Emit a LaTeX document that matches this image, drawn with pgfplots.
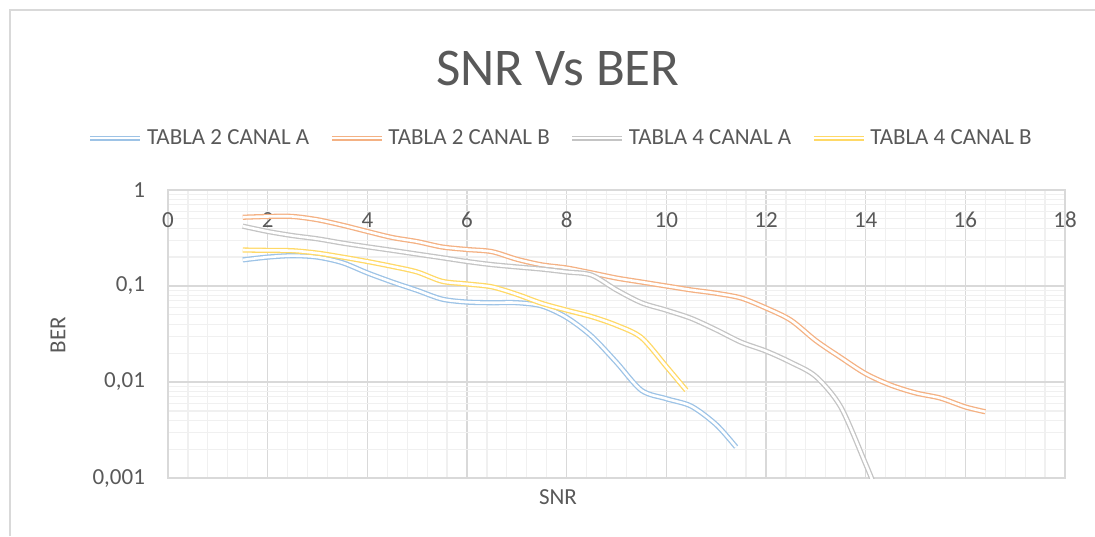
\documentclass[border=0pt]{standalone}
\usepackage{pgfplots}
\pgfplotsset{compat=1.18}
\usepackage{fontspec}
\setmainfont{Carlito}
\definecolor{cblue}{HTML}{9DC3E6}
\definecolor{corange}{HTML}{F4B183}
\definecolor{cgray}{HTML}{C4C4C4}
\definecolor{cyellow}{HTML}{FFD966}
\definecolor{txt}{HTML}{595959}
\definecolor{gmaj}{HTML}{D9D9D9}
\definecolor{gmin}{HTML}{F0F0F0}
\begin{document}
\begin{tikzpicture}
\useasboundingbox (-84pt,-29pt) rectangle (463.5pt,239pt);
\draw[gmaj, line width=0.6pt] (-79pt,-29pt) -- (-79pt,234pt) -- (463.5pt,234pt);
\begin{axis}[
  at={(0pt,0pt)}, anchor=south west,
  scale only axis, width=448.5pt, height=144pt,
  ymode=log, xmin=0, xmax=18, ymin=0.001, ymax=1,
  xtick={0,2,...,18}, minor x tick num=4,
  ytick={0.001,0.01,0.1,1}, yticklabels={{0,001},{0,01},{0,1},{1}},
  grid=both,
  major grid style={color=gmaj, line width=0.6pt},
  minor grid style={color=gmin, line width=0.6pt},
  axis line style={gmaj, line width=0.6pt},
  tick style={draw=none},
  xticklabel pos=upper,
  xticklabel style={anchor=center, yshift=-15pt, font=\fontsize{11.5}{13}\selectfont, text=txt},
  yticklabel style={anchor=east, xshift=-8pt, font=\fontsize{11.5}{13}\selectfont, text=txt},
  /pgf/number format/assume math mode=true,
  legend columns=4,
  legend style={draw=none, fill=none, at={(axis description cs:0.439,1.18)}, anchor=center,
    font=\fontsize{11.5}{13}\selectfont, text=txt,
    /tikz/every even column/.append style={column sep=8pt}},
  legend image code/.code={\draw[#1] (0pt,0pt) -- (25pt,0pt);},
  every axis plot/.append style={line width=0.65pt, double=white, double distance=1.3pt, smooth},
]
\addplot[cblue] coordinates {(1.5,0.187) (2,0.200) (2.5,0.207) (3,0.200) (3.5,0.175) (4,0.137) (4.5,0.110) (5,0.090) (5.5,0.073) (6,0.068) (6.5,0.067) (7,0.067) (7.5,0.062) (8,0.047) (8.5,0.030) (9,0.016) (9.5,0.0082) (10,0.0067) (10.5,0.0056) (11,0.0036) (11.4,0.0021)};
\addlegendentry{TABLA 2 CANAL A}
\addplot[corange] coordinates {(1.5,0.52) (2,0.53) (2.5,0.53) (3,0.49) (3.5,0.43) (4,0.37) (4.5,0.32) (5,0.29) (5.5,0.255) (6,0.24) (6.5,0.228) (7,0.19) (7.5,0.166) (8,0.154) (8.5,0.137) (9,0.121) (9.5,0.11) (10,0.10) (10.5,0.091) (11,0.084) (11.5,0.075) (12,0.059) (12.5,0.044) (13,0.027) (13.5,0.018) (14,0.0122) (14.5,0.0093) (15,0.0077) (15.5,0.0068) (16,0.0055) (16.4,0.0049)};
\addlegendentry{TABLA 2 CANAL B}
\addplot[cgray] coordinates {(1.5,0.42) (2,0.37) (2.5,0.335) (3,0.31) (3.5,0.28) (4,0.256) (4.5,0.235) (5,0.215) (5.5,0.197) (6,0.18) (6.5,0.167) (7,0.158) (7.5,0.15) (8,0.14) (8.5,0.13) (9,0.091) (9.5,0.067) (10,0.056) (10.5,0.046) (11,0.035) (11.5,0.026) (12,0.021) (12.5,0.016) (13,0.0114) (13.5,0.0055) (14,0.0014) (14.15,0.0009)};
\addlegendentry{TABLA 4 CANAL A}
\addplot[cyellow] coordinates {(1.5,0.237) (2,0.235) (2.5,0.233) (3,0.22) (3.5,0.20) (4,0.18) (4.5,0.16) (5,0.14) (5.5,0.112) (6,0.105) (6.5,0.098) (7,0.082) (7.5,0.066) (8,0.056) (8.5,0.048) (9,0.039) (9.5,0.029) (10,0.0145) (10.4,0.0082)};
\addlegendentry{TABLA 4 CANAL B}
\end{axis}
\node[text=txt, font=\fontsize{26.5}{30}\selectfont] at (195pt,205pt) {SNR Vs BER};
\node[text=txt, font=\fontsize{11.5}{13}\selectfont] at (195pt,-9.5pt) {SNR};
\node[text=txt, font=\fontsize{11.5}{13}\selectfont, rotate=90] at (-55pt,71.5pt) {BER};
\end{tikzpicture}
\end{document}
